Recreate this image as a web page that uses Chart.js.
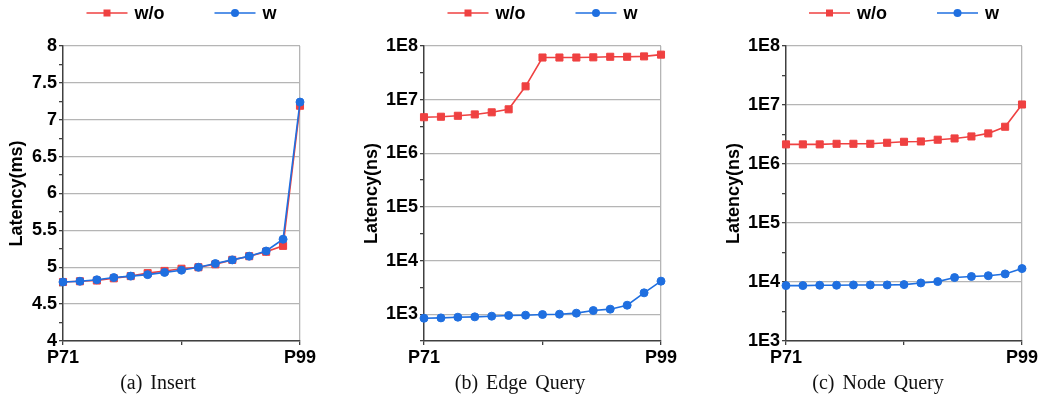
<!DOCTYPE html>
<html>
<head>
<meta charset="utf-8">
<script src="https://cdn.jsdelivr.net/npm/chart.js@4/dist/chart.umd.min.js"></script>
<style>
html, body { margin: 0; padding: 0; background: #fff; }
#wrap { position: relative; width: 1042px; height: 403px; overflow: hidden; }
#wrap canvas { position: absolute; top: 0; }
.cap {
  position: absolute; top: 370px; width: 260px; text-align: center;
  font: 20px/24px "Liberation Serif", "Times New Roman", serif;
  word-spacing: 3px; color: #111;
}
</style>
</head>
<body>
<div id="wrap">
  <canvas id="insertChart" style="left:0px;width:320px;height:372px" width="320" height="372"></canvas>
  <canvas id="edgeChart" style="left:340px;width:340px;height:372px" width="340" height="372"></canvas>
  <canvas id="nodeChart" style="left:700px;width:342px;height:372px" width="342" height="372"></canvas>
  <div class="cap" style="left:28px">(a) Insert</div>
  <div class="cap" style="left:390px">(b) Edge Query</div>
  <div class="cap" style="left:748px">(c) Node Query</div>
</div>
<script>
(function() {
'use strict';

// percentiles on the x axis
const categories = ['P71', 'P73', 'P75', 'P77', 'P79', 'P81', 'P83', 'P85',
  'P87', 'P89', 'P91', 'P93', 'P95', 'P97', 'P99'];

// (a) Insert, latency in ms
const insertWo = [4.80, 4.81, 4.82, 4.85, 4.88, 4.92, 4.95, 4.98, 5.00, 5.04,
  5.10, 5.15, 5.21, 5.29, 7.19];
const insertW = [4.80, 4.81, 4.83, 4.86, 4.88, 4.90, 4.93, 4.96, 5.00, 5.05,
  5.10, 5.15, 5.22, 5.38, 7.24];

// (b) Edge Query, latency in ns
const edgeWo = [4.7e6, 4.8e6, 5.0e6, 5.3e6, 5.8e6, 6.6e6, 1.77e7, 6.1e7,
  6.1e7, 6.1e7, 6.15e7, 6.3e7, 6.3e7, 6.4e7, 6.9e7];
const edgeW = [840, 853, 879, 892, 918, 945, 958, 986, 1000, 1045, 1170,
  1240, 1470, 2500, 4130];

// (c) Node Query, latency in ns
const nodeWo = [2.15e6, 2.15e6, 2.15e6, 2.2e6, 2.2e6, 2.2e6, 2.29e6, 2.38e6,
  2.41e6, 2.58e6, 2.71e6, 2.93e6, 3.3e6, 4.28e6, 1.02e7];
const nodeW = [8690, 8690, 8810, 8810, 8920, 8920, 8920, 9040, 9640, 10160,
  11900, 12400, 12800, 13700, 16900];

// y ticks (minor ones carry an empty label)
const insertTicks = [4, 4.25, 4.5, 4.75, 5, 5.25, 5.5, 5.75, 6, 6.25, 6.5,
  6.75, 7, 7.25, 7.5, 7.75, 8];
const insertLabels = ['4', '', '4.5', '', '5', '', '5.5', '', '6', '', '6.5',
  '', '7', '', '7.5', '', '8'];
const edgeExps = [2.5, 3, 3.5, 4, 4.5, 5, 5.5, 6, 6.5, 7, 7.5, 8];
const nodeExps = [3, 3.5, 4, 4.5, 5, 5.5, 6, 6.5, 7, 7.5, 8];
const logLabels = {3: '1E3', 4: '1E4', 5: '1E5', 6: '1E6', 7: '1E7', 8: '1E8'};

const RED = '#EF4141';
const BLUE = '#1F6FE0';
const GRID = '#b5b5b5';
const AXIS = '#404040';
const FONT = {family: '"Liberation Sans", Arial, sans-serif', size: 18, weight: 'bold'};
const N = categories.length;
const MID = 7;

// legend: short line with the marker in its middle, centred over the plot
const lineLegend = {
  id: 'lineLegend',
  afterDraw(chart) {
    const ctx = chart.ctx, a = chart.chartArea;
    const sets = chart.data.datasets;
    const lineW = 41, gap = 7, sep = 50, y = 13;
    ctx.save();
    ctx.font = 'bold 18px "Liberation Sans", Arial, sans-serif';
    const widths = sets.map(d => lineW + gap + ctx.measureText(d.label).width);
    const total = widths.reduce((s, w) => s + w, 0) + sep * (sets.length - 1);
    let x = (a.left + a.right) / 2 - total / 2;
    sets.forEach((d, i) => {
      ctx.strokeStyle = d.borderColor;
      ctx.fillStyle = d.borderColor;
      ctx.lineWidth = d.borderWidth;
      ctx.beginPath();
      ctx.moveTo(x, y);
      ctx.lineTo(x + lineW, y);
      ctx.stroke();
      const cx = x + lineW / 2;
      if (d.pointStyle === 'rect') {
        ctx.fillRect(cx - 3.5, y - 3.5, 7, 7);
      } else {
        ctx.beginPath();
        ctx.arc(cx, y, 4, 0, Math.PI * 2);
        ctx.fill();
      }
      ctx.fillStyle = '#000';
      ctx.textBaseline = 'middle';
      ctx.fillText(d.label, x + lineW + gap, y + 1);
      x += widths[i] + sep;
    });
    ctx.restore();
  }
};

function series(label, data, color, style, order) {
  return {
    label: label,
    data: data,
    borderColor: color,
    backgroundColor: color,
    borderWidth: 1.6,
    pointStyle: style,
    pointRadius: style === 'rect' ? 5 : 4,
    pointBorderWidth: 1,
    pointBorderColor: color,
    pointBackgroundColor: color,
    tension: 0,
    clip: false,
    order: order
  };
}

function isWhole(e) {
  return Math.abs(e - Math.round(e)) < 0.01;
}

function makeChart(id, wo, w, yScale, axisW, rightPad, titlePad) {
  const ctx = document.getElementById(id).getContext('2d');
  yScale.afterFit = s => { s.width = axisW; };
  yScale.border = {color: AXIS, width: 1.5};
  yScale.title.font = FONT;
  yScale.title.color = '#000';
  yScale.title.padding = {top: titlePad, bottom: 0};
  yScale.title.display = true;
  yScale.ticks.font = FONT;
  yScale.ticks.color = '#000';
  yScale.ticks.padding = 2;
  yScale.ticks.autoSkip = false;
  return new Chart(ctx, {
    type: 'line',
    data: {
      labels: categories,
      datasets: [
        series('w/o', wo, RED, 'rect', 1),
        series('w', w, BLUE, 'circle', 0)
      ]
    },
    options: {
      responsive: false,
      animation: false,
      events: [],
      layout: {padding: {top: 46, right: rightPad, left: 0, bottom: 0}},
      plugins: {legend: {display: false}, tooltip: {enabled: false}},
      scales: {
        x: {
          afterFit: s => { s.height = 31; },
          ticks: {
            autoSkip: false,
            maxRotation: 0,
            padding: 2,
            font: FONT,
            color: '#000',
            callback: (v, i) => (i === 0 || i === N - 1) ? categories[i] : ''
          },
          grid: {
            color: c => c.index === N - 1 ? GRID : 'rgba(0,0,0,0)',
            tickColor: c => (c.index === 0 || c.index === MID || c.index === N - 1) ? AXIS : 'rgba(0,0,0,0)',
            tickLength: 4,
            lineWidth: 1.3
          },
          border: {color: AXIS, width: 1.5}
        },
        y: yScale
      }
    },
    plugins: [lineLegend]
  });
}

function logScale(minVal, exps) {
  return {
    type: 'logarithmic',
    min: minVal,
    max: 1e8,
    afterBuildTicks: s => { s.ticks = exps.map(e => ({value: Math.pow(10, e)})); },
    ticks: {
      callback: v => {
        const e = Math.log10(v);
        return isWhole(e) ? logLabels[Math.round(e)] : '';
      }
    },
    grid: {
      color: c => (c.tick && isWhole(Math.log10(c.tick.value))) ? GRID : 'rgba(0,0,0,0)',
      tickColor: AXIS,
      tickLength: 4,
      lineWidth: 1.3
    },
    title: {text: 'Latency(ns)'}
  };
}

function boot() {
  makeChart('insertChart', insertWo, insertW, {
    type: 'linear',
    min: 4,
    max: 8,
    afterBuildTicks: s => { s.ticks = insertTicks.map(v => ({value: v})); },
    ticks: {callback: (v, i) => insertLabels[i]},
    grid: {
      color: c => (c.tick && insertLabels[c.index] !== '') ? GRID : 'rgba(0,0,0,0)',
      tickColor: AXIS,
      tickLength: 4,
      lineWidth: 1.3
    },
    title: {text: 'Latency(ms)'}
  }, 63, 20, 6);

  makeChart('edgeChart', edgeWo, edgeW, logScale(Math.pow(10, 2.5), edgeExps), 84, 19, 21);
  makeChart('nodeChart', nodeWo, nodeW, logScale(1e3, nodeExps), 86, 20, 23);
}

if (document.readyState === 'loading') {
  document.addEventListener('DOMContentLoaded', boot);
} else {
  boot();
}
})();
</script>
</body>
</html>
